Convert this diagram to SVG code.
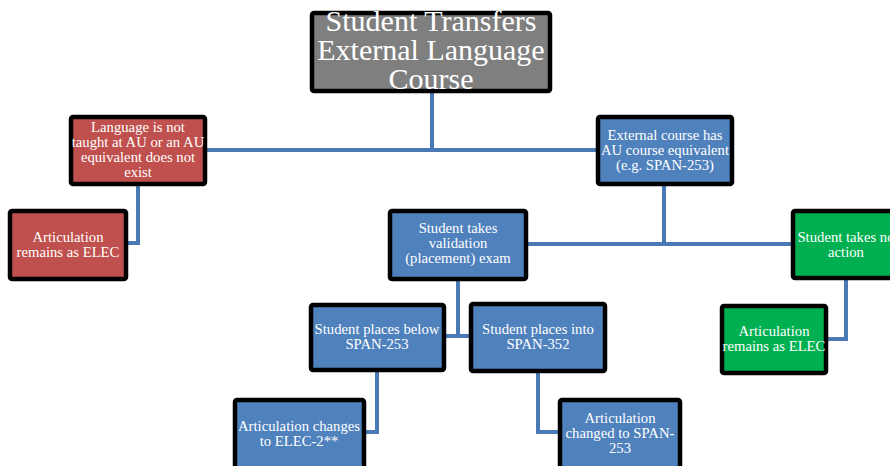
<svg xmlns="http://www.w3.org/2000/svg" width="890" height="466" viewBox="0 0 890 466">
<style>
.box{stroke:#000;stroke-width:4.5}
.red{fill:#c0504d}.blue{fill:#4f81bd}.green{fill:#00b050}.gray{fill:#7f7f7f}
text{font-family:"Liberation Serif","DejaVu Serif",serif;fill:#fff;text-anchor:middle}
.s{font-size:14.7px}.t{font-size:30px}
.conn{fill:none;stroke:#4a7ab5;stroke-width:4}
</style>
<rect width="890" height="466" fill="#fff"/>
<g id="connectors">
<path class="conn" d="M432 91V150M206 150H598"/>
<path class="conn" d="M138 185V243H127"/>
<path class="conn" d="M664 185V244M526 244H792"/>
<path class="conn" d="M846 279V339H826"/>
<path class="conn" d="M458 280V336M445 336H470"/>
<path class="conn" d="M377 371V432H365"/>
<path class="conn" d="M538 372V432H558"/>
</g>
<g id="title"><rect class="box gray" x="312" y="13" width="238" height="78" rx="2"/>
<text class="t" x="431" y="31">Student Transfers</text><text class="t" x="431" y="60">External Language</text><text class="t" x="431" y="89">Course</text></g>
<g id="no-equiv"><rect class="box red" x="71" y="117" width="134" height="67" rx="2"/>
<text class="s" x="138" y="132">Language is not</text><text class="s" x="138" y="147">taught at AU or an AU</text><text class="s" x="138" y="162">equivalent does not</text><text class="s" x="138" y="177">exist</text></g>
<g id="remains-elec-1"><rect class="box red" x="10" y="211" width="116" height="68" rx="2"/>
<text class="s" x="68" y="242">Articulation</text><text class="s" x="68" y="257">remains as ELEC</text></g>
<g id="has-equiv"><rect class="box blue" x="598" y="117" width="134" height="67" rx="2"/>
<text class="s" x="665" y="140">External course has</text><text class="s" x="665" y="155">AU course equivalent</text><text class="s" x="665" y="170">(e.g. SPAN-253)</text></g>
<g id="validation"><rect class="box blue" x="390" y="211" width="136" height="68" rx="2"/>
<text class="s" x="458" y="233">Student takes</text><text class="s" x="458" y="248">validation</text><text class="s" x="458" y="263">(placement) exam</text></g>
<g id="no-action"><rect class="box green" x="793" y="211" width="106" height="67" rx="2"/>
<text class="s" x="846" y="242">Student takes no</text><text class="s" x="846" y="257">action</text></g>
<g id="below"><rect class="box blue" x="311" y="305" width="133" height="65" rx="2"/>
<text class="s" x="377" y="334">Student places below</text><text class="s" x="377" y="349">SPAN-253</text></g>
<g id="into"><rect class="box blue" x="471" y="304" width="134" height="67" rx="2"/>
<text class="s" x="538" y="334">Student places into</text><text class="s" x="538" y="349">SPAN-352</text></g>
<g id="remains-elec-2"><rect class="box green" x="722" y="306" width="104" height="67" rx="2"/>
<text class="s" x="774" y="336">Articulation</text><text class="s" x="774" y="351">remains as ELEC</text></g>
<g id="elec2"><rect class="box blue" x="235" y="400" width="129" height="70" rx="2"/>
<text class="s" x="299" y="431">Articulation changes</text><text class="s" x="299" y="446">to ELEC-2**</text></g>
<g id="span253"><rect class="box blue" x="560" y="400" width="120" height="70" rx="2"/>
<text class="s" x="620" y="423">Articulation</text><text class="s" x="620" y="438">changed to SPAN-</text><text class="s" x="620" y="453">253</text></g>
</svg>
